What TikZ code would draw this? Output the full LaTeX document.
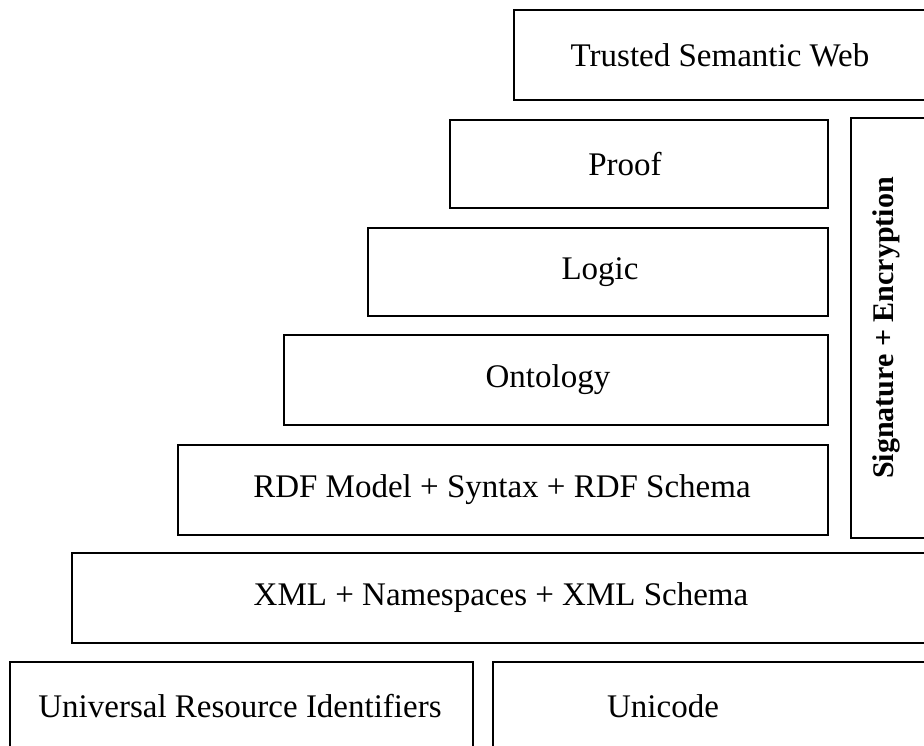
\documentclass[tikz,border=0pt]{standalone}
\usepackage{fontspec}
\setmainfont{Liberation Serif}
\begin{document}
\begin{tikzpicture}[x=1pt,y=-1pt,
  layer/.style={draw=black,line width=2pt},
  lbl/.style={font=\fontsize{33}{36}\selectfont,inner sep=0pt},
  vlbl/.style={font=\fontsize{30}{34}\selectfont\bfseries,inner sep=0pt,rotate=90}]
\useasboundingbox (0,0) rectangle (924,746);
\clip (0,0) rectangle (924,746);
\fill[white] (0,0) rectangle (924,746);
% layers
\draw[layer] (514,10) rectangle (940,100);
\draw[layer] (450,120) rectangle (828,208);
\draw[layer] (851,118) rectangle (940,538);
\draw[layer] (368,228) rectangle (828,316);
\draw[layer] (284,335) rectangle (828,425);
\draw[layer] (178,445) rectangle (828,535);
\draw[layer] (72,553) rectangle (940,643);
\draw[layer] (10,662) rectangle (473,760);
\draw[layer] (493,662) rectangle (940,760);
% labels
\node[lbl] (tsw) at (720,55) {Trusted Semantic Web};
\node[lbl] (proof) at (625,164) {Proof};
\node[lbl] (logic) at (600,272) {Logic};
\node[lbl] (onto) at (548,380) {Ontology};
\node[lbl] (rdf) at (502,490) {RDF Model + Syntax + RDF Schema};
\node[lbl] (xml) at (501,598) {XML + Namespaces + XML Schema};
\node[lbl] (uri) at (240,706) {Universal Resource Identifiers};
\node[lbl] (uni) at (663,706) {Unicode};
\node[vlbl] (sig) at (886,328) {Signature + Encryption};
\end{tikzpicture}
\end{document}
